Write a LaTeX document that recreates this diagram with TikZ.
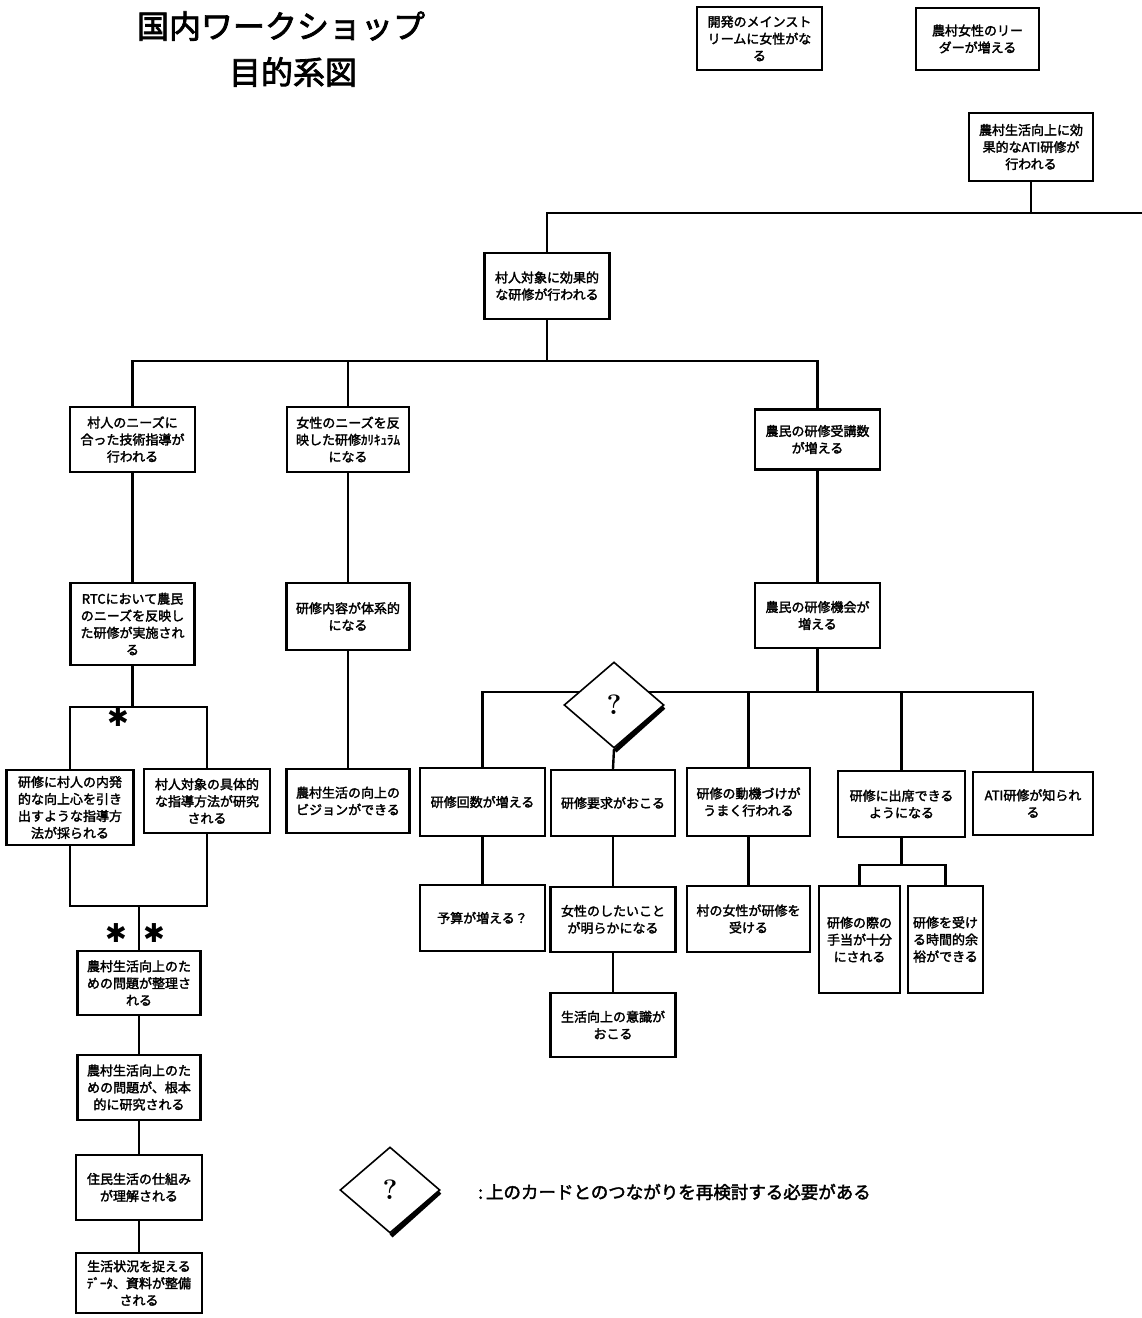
\documentclass[tikz,border=0pt]{standalone}
\usepackage{fontspec}
\usetikzlibrary{shapes.geometric,calc}
\newfontfamily\jpb{Noto Sans CJK JP}[FakeBold=2.2]
\newfontfamily\jpt{Noto Sans CJK JP}[FakeBold=2.5]
\newfontfamily\symf{DejaVu Sans}
\tikzset{
  card/.style={draw, line width=2.4pt, fill=white, inner sep=0pt, align=center,
    font={\jpb\fontsize{13}{17}\selectfont}},
  link/.style={line width=2.4pt},
  qmark/.style={diamond, draw, line width=1.6pt, fill=white, minimum width=100pt,
    minimum height=86pt, inner sep=0pt, font={\fontsize{28}{28}\selectfont\bfseries}},
  starmark/.style={font={\symf\fontsize{26}{26}\selectfont}, inner sep=0pt},
  titletext/.style={font={\jpt\fontsize{32}{34}\selectfont}, inner sep=0pt},
}
% \cardat{name}{x}{y}{width}{height}{text}
\newcommand\cardat[6]{\node[card, minimum width=#4pt, minimum height=#5pt] (#1) at (#2,#3) {#6};}
\begin{document}
\begin{tikzpicture}[x=1pt, y=-1pt]
\fill[white] (0,0) rectangle (1142,1318);
\useasboundingbox (0,0) rectangle (1142,1318);

% title
\node[titletext] (t1) at (281,26) {国内ワークショップ};
\node[titletext] (t2) at (293,72) {目的系図};

% top cards
\cardat{dev}{759.5}{38.5}{125}{63}{開発のメインスト\\リームに女性がな\\る}
\cardat{lead}{977.5}{39}{123}{62}{農村女性のリー\\ダーが増える}
\cardat{ati}{1031}{147}{124}{68}{農村生活向上に効\\果的なATI研修が\\行われる}
\cardat{vil}{547}{286}{125}{66}{村人対象に効果的\\な研修が行われる}

% second level
\cardat{needs}{132.5}{439.5}{125}{65}{村人のニーズに\\合った技術指導が\\行われる}
\cardat{women}{348}{439.5}{122}{65}{女性のニーズを反\\映した研修ｶﾘｷｭﾗﾑ\\になる}
\cardat{count}{817.5}{439.5}{125}{60}{農民の研修受講数\\が増える}

\cardat{rtc}{132.5}{624}{124}{82}{RTCにおいて農民\\のニーズを反映し\\た研修が実施され\\る}
\cardat{sys}{348}{616.5}{123}{67}{研修内容が体系的\\になる}
\cardat{opp}{817.5}{615.5}{125}{65}{農民の研修機会が\\増える}

% left branch
\cardat{inner}{70}{807.5}{127}{75}{研修に村人の内発\\的な向上心を引き\\出すような指導方\\法が採られる}
\cardat{method}{207}{801}{126}{64}{村人対象の具体的\\な指導方法が研究\\される}
\cardat{vision}{348}{801}{123}{64}{農村生活の向上の\\ビジョンができる}

\cardat{issues}{139}{983}{123}{64}{農村生活向上のた\\めの問題が整理さ\\れる}
\cardat{research}{139}{1087.5}{123}{65}{農村生活向上のた\\めの問題が、根本\\的に研究される}
\cardat{living}{139}{1187.5}{126}{65}{住民生活の仕組み\\が理解される}
\cardat{data}{139}{1283}{126}{60}{生活状況を捉える\\ﾃﾞｰﾀ、資料が整備\\される}

% right branch
\cardat{times}{482.5}{802}{125}{68}{研修回数が増える}
\cardat{demand}{613}{803}{124}{66}{研修要求がおこる}
\cardat{motiv}{748.5}{802}{123}{68}{研修の動機づけが\\うまく行われる}
\cardat{attend}{901.5}{804}{127}{66}{研修に出席できる\\ようになる}
\cardat{known}{1033}{803.5}{120}{63}{ATI研修が知られ\\る}

\cardat{budget}{482.5}{918}{125}{66}{予算が増える？}
\cardat{wish}{613}{919.5}{125}{65}{女性のしたいこと\\が明らかになる}
\cardat{vwomen}{748.5}{919}{123}{66}{村の女性が研修を\\受ける}
\cardat{allow}{859.5}{939.5}{81}{107}{研修の際の\\手当が十分\\にされる}
\cardat{spare}{945.5}{939.5}{75}{107}{研修を受け\\る時間的余\\裕ができる}
\cardat{aware}{613}{1025}{125}{64}{生活向上の意識が\\おこる}

% junction points of the connector buses
\coordinate (edge) at (1142,213);
\coordinate (b2) at (547,361);
\coordinate (b3) at (132.5,707);
\coordinate (b4) at (139,906);
\coordinate (b5) at (817.5,692);
\coordinate (b6) at (901.5,865);

% connectors
\begin{scope}[link]
  \draw (ati.south) -- (ati.south |- edge);
  \draw (vil.north) |- (edge);
  \draw (vil.south) -- (b2);
  \draw (needs.north) |- (count.north |- b2) -- (count.north);
  \draw (women.north) -- (women.north |- b2);
  \draw (needs.south) -- (rtc.north);
  \draw (women.south) -- (sys.north);
  \draw (sys.south) -- (vision.north);
  \draw (count.south) -- (opp.north);
  \draw (rtc.south) -- (b3);
  \draw (inner.north) |- (method.north |- b3) -- (method.north);
  \draw (inner.south) |- (method.south |- b4) -- (method.south);
  \draw (b4) -- (issues.north);
  \draw (issues.south) -- (research.north);
  \draw (research.south) -- (living.north);
  \draw (living.south) -- (data.north);
  \draw (opp.south) -- (b5);
  \draw (times.north) |- (known.north |- b5) -- (known.north);
  \draw (motiv.north) -- (motiv.north |- b5);
  \draw (attend.north) -- (attend.north |- b5);
  \draw (times.south) -- (budget.north);
  \draw (demand.south) -- (wish.north);
  \draw (wish.south) -- (aware.north);
  \draw (motiv.south) -- (vwomen.north);
  \draw (attend.south) -- (b6);
  \draw (allow.north) |- (spare.north |- b6) -- (spare.north);
\end{scope}

% question diamond on the lower bus
\node[qmark] (q) at (614,705) {?};
\draw[line width=4.5pt] ($(q.east)+(-1,2)$) -- ($(q.south)+(1,2)$);
\draw[link] (q.south) -- (demand.north);

% asterisk marks
\node[starmark] (s1) at (118,717) {✱};
\node[starmark] (s2) at (116,933) {✱};
\node[starmark] (s3) at (154,933) {✱};

% legend
\node[qmark] (qleg) at (390,1190) {?};
\draw[line width=4.5pt] ($(qleg.east)+(-1,2)$) -- ($(qleg.south)+(1,2)$);
\node[anchor=west, inner sep=0pt, font={\jpb\fontsize{17.5}{20}\selectfont}] (legtext) at (478,1192) {:\,上のカードとのつながりを再検討する必要がある};
\end{tikzpicture}
\end{document}
